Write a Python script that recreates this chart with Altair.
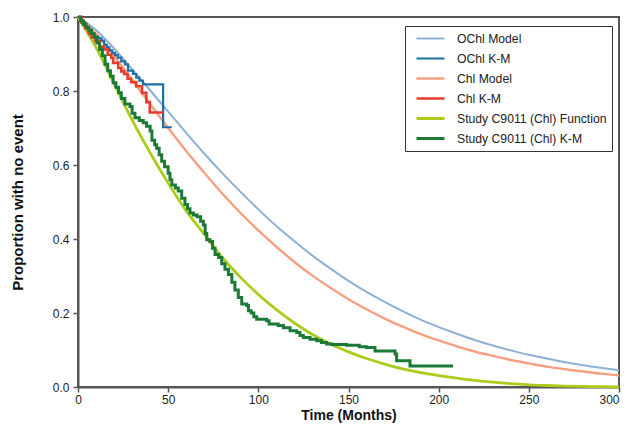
import altair as alt
import pandas as pd

# ---- data ----
model_t = [0, 10, 20, 30, 40, 50, 60, 70, 80, 90, 100, 110, 120, 130, 140, 150,
           160, 170, 180, 190, 200, 210, 220, 230, 240, 250, 260, 270, 280, 290, 300]
ochl_model = [1.0, 0.965, 0.915, 0.859, 0.802, 0.744, 0.687, 0.631, 0.578, 0.528, 0.480,
              0.435, 0.394, 0.355, 0.320, 0.287, 0.257, 0.230, 0.205, 0.182, 0.162,
              0.144, 0.127, 0.112, 0.099, 0.087, 0.077, 0.067, 0.059, 0.052, 0.045]
chl_model = [1.0, 0.955, 0.895, 0.830, 0.765, 0.700, 0.638, 0.579, 0.523, 0.471, 0.423,
             0.379, 0.338, 0.301, 0.268, 0.237, 0.210, 0.185, 0.163, 0.143, 0.126,
             0.110, 0.096, 0.084, 0.073, 0.064, 0.055, 0.048, 0.042, 0.036, 0.031]
study_fn = [1.0, 0.918, 0.82, 0.722, 0.633, 0.551, 0.476, 0.413, 0.35, 0.297, 0.25,
            0.209, 0.173, 0.142, 0.116, 0.095, 0.077, 0.062, 0.049, 0.039, 0.031,
            0.024, 0.018, 0.013, 0.009, 0.006, 0.004, 0.0025, 0.0015, 0.0008, 0.0004]

ochl_km = [(0, 1.0), (2, 0.985), (4, 0.972), (5.5, 0.965), (7, 0.955), (9, 0.947),
           (11, 0.942), (13, 0.936), (14.5, 0.925), (16, 0.918), (17.5, 0.91),
           (19, 0.903), (20.5, 0.897), (22, 0.89), (24, 0.88), (26, 0.872),
           (27.7, 0.855), (30.5, 0.846), (32.3, 0.836), (34, 0.828), (36, 0.818),
           (47.2, 0.702), (52, 0.702)]
chl_km = [(0, 1.0), (2, 0.985), (4, 0.97), (6, 0.955), (7.5, 0.945), (9.5, 0.935),
          (12, 0.92), (14.5, 0.912), (16.5, 0.898), (18.5, 0.889), (19.5, 0.876),
          (22.3, 0.862), (24, 0.853), (25.5, 0.846), (27.5, 0.833), (29.5, 0.824),
          (32.3, 0.813), (35.5, 0.795), (37.9, 0.77), (39.8, 0.742), (47.2, 0.742)]
study_km = [(0, 1.0), (1.5, 0.99), (3, 0.98), (4.5, 0.972), (6, 0.965), (7.5, 0.955),
            (9, 0.945), (10.5, 0.93), (12, 0.912), (13.5, 0.895), (15, 0.872),
            (16.5, 0.855), (18, 0.84), (19.5, 0.822), (21, 0.81), (22.5, 0.795),
            (24, 0.78), (26, 0.765), (28.8, 0.758), (30, 0.74), (31.6, 0.728),
            (34, 0.72), (36.2, 0.714), (38, 0.705), (40, 0.692), (41, 0.667),
            (42.5, 0.655), (43.6, 0.645), (45, 0.628), (46.4, 0.61), (48, 0.595),
            (50, 0.578), (51, 0.56), (52, 0.546), (54, 0.538), (55.6, 0.53),
            (57.5, 0.51), (59.3, 0.493), (60.7, 0.482), (62.1, 0.47), (64, 0.465),
            (66, 0.46), (68, 0.448), (69.5, 0.438), (70.5, 0.415), (71.4, 0.398),
            (73.2, 0.393), (74.6, 0.375), (76, 0.358), (78, 0.35), (79.7, 0.333),
            (81.5, 0.318), (83.4, 0.304), (85.3, 0.283), (87, 0.262), (88.9, 0.242),
            (90.8, 0.224), (93.6, 0.22), (94.5, 0.206), (96, 0.2), (97.5, 0.19),
            (99.1, 0.183), (104.6, 0.179), (106, 0.17), (111, 0.166), (113.9, 0.16),
            (117.6, 0.152), (121.3, 0.147), (123.1, 0.139), (125, 0.134),
            (128.7, 0.129), (132.4, 0.125), (135, 0.12), (137.9, 0.116),
            (141, 0.115), (149, 0.113), (156, 0.109), (160, 0.107), (164.7, 0.097),
            (175.8, 0.089), (176.7, 0.071), (184.1, 0.057), (208, 0.057)]

series_names = ["OChl Model", "OChl K-M", "Chl Model", "Chl K-M",
                "Study C9011 (Chl) Function", "Study C9011 (Chl) K-M"]
series_colors = ["#8eb0d6", "#1b70a6", "#f7a081", "#e43d2a", "#aacc1a", "#1a7a36"]
series_widths = [2, 3, 2, 3, 2, 3]
x_ticks = [0, 50, 100, 150, 200, 250, 300]
y_ticks = [0.0, 0.2, 0.4, 0.6, 0.8, 1.0]

# ---- tables ----
model_rows = []
for name, vals in [(series_names[0], ochl_model), (series_names[2], chl_model),
                   (series_names[4], study_fn)]:
    for i, (t, p) in enumerate(zip(model_t, vals)):
        model_rows.append({"series": name, "t": t, "p": p, "o": i})
km_rows = []
for name, pts in [(series_names[1], ochl_km), (series_names[3], chl_km),
                  (series_names[5], study_km)]:
    for i, (t, p) in enumerate(pts):
        km_rows.append({"series": name, "t": t, "p": p, "o": i})
models = pd.DataFrame(model_rows)
kms = pd.DataFrame(km_rows)

legend_opts = dict(title=None, orient="none", legendX=327, legendY=9,
                   symbolType="stroke", symbolSize=784, clipHeight=15,
                   symbolOffset=5, labelOffset=11,
                   labelFontSize=12.2, labelFont="Liberation Sans",
                   labelColor="#222", padding=5,
                   rowPadding=5, strokeColor="#333",
                   fillColor="white", labelLimit=300)

x = alt.X("t:Q", scale=alt.Scale(domain=[0, 300], nice=False),
          axis=alt.Axis(values=x_ticks, format="d", title="Time (Months)",
                        titlePadding=3, labelPadding=2, labelFlush=False,
                        titleFontSize=14,
                        labelAlign={"condition": {"test": "datum.value >= 300",
                                                  "value": "right"},
                                    "value": "center"}))
y = alt.Y("p:Q", scale=alt.Scale(domain=[0, 1], nice=False),
          axis=alt.Axis(values=y_ticks, format=".1f", title="Proportion with no event",
                        titlePadding=27, labelPadding=4, labelFlush=False))
color = alt.Color("series:N", scale=alt.Scale(domain=series_names, range=series_colors),
                  legend=alt.Legend(**legend_opts))
sw = alt.StrokeWidth("series:N", scale=alt.Scale(domain=series_names, range=series_widths),
                     legend=alt.Legend(**legend_opts))

model_layer = alt.Chart(models).mark_line(interpolate="monotone").encode(
    x=x, y=y, color=color, strokeWidth=sw, order="o:Q", detail="series:N")
km_layer = alt.Chart(kms).mark_line(interpolate="step-after").encode(
    x=x, y=y, color=color, strokeWidth=sw, order="o:Q", detail="series:N")

chart = alt.layer(model_layer, km_layer).properties(
    width=541, height=370,
    autosize=alt.AutoSizeParams(type="none"),
    padding={"left": 70, "top": 9, "right": 2, "bottom": 36},
).configure_view(stroke="#555", strokeWidth=2).configure_axis(
    grid=False, domainColor="#555", domainWidth=2, tickColor="#555", tickWidth=1.5,
    tickSize=5, labelFont="Liberation Sans", labelFontSize=12,
    labelColor="#222", titleFont="Liberation Sans", titleFontSize=15,
    titleFontWeight="bold", titleColor="#111",
)

chart.save("out.html", embed_options={"renderer": "svg", "actions": False})
